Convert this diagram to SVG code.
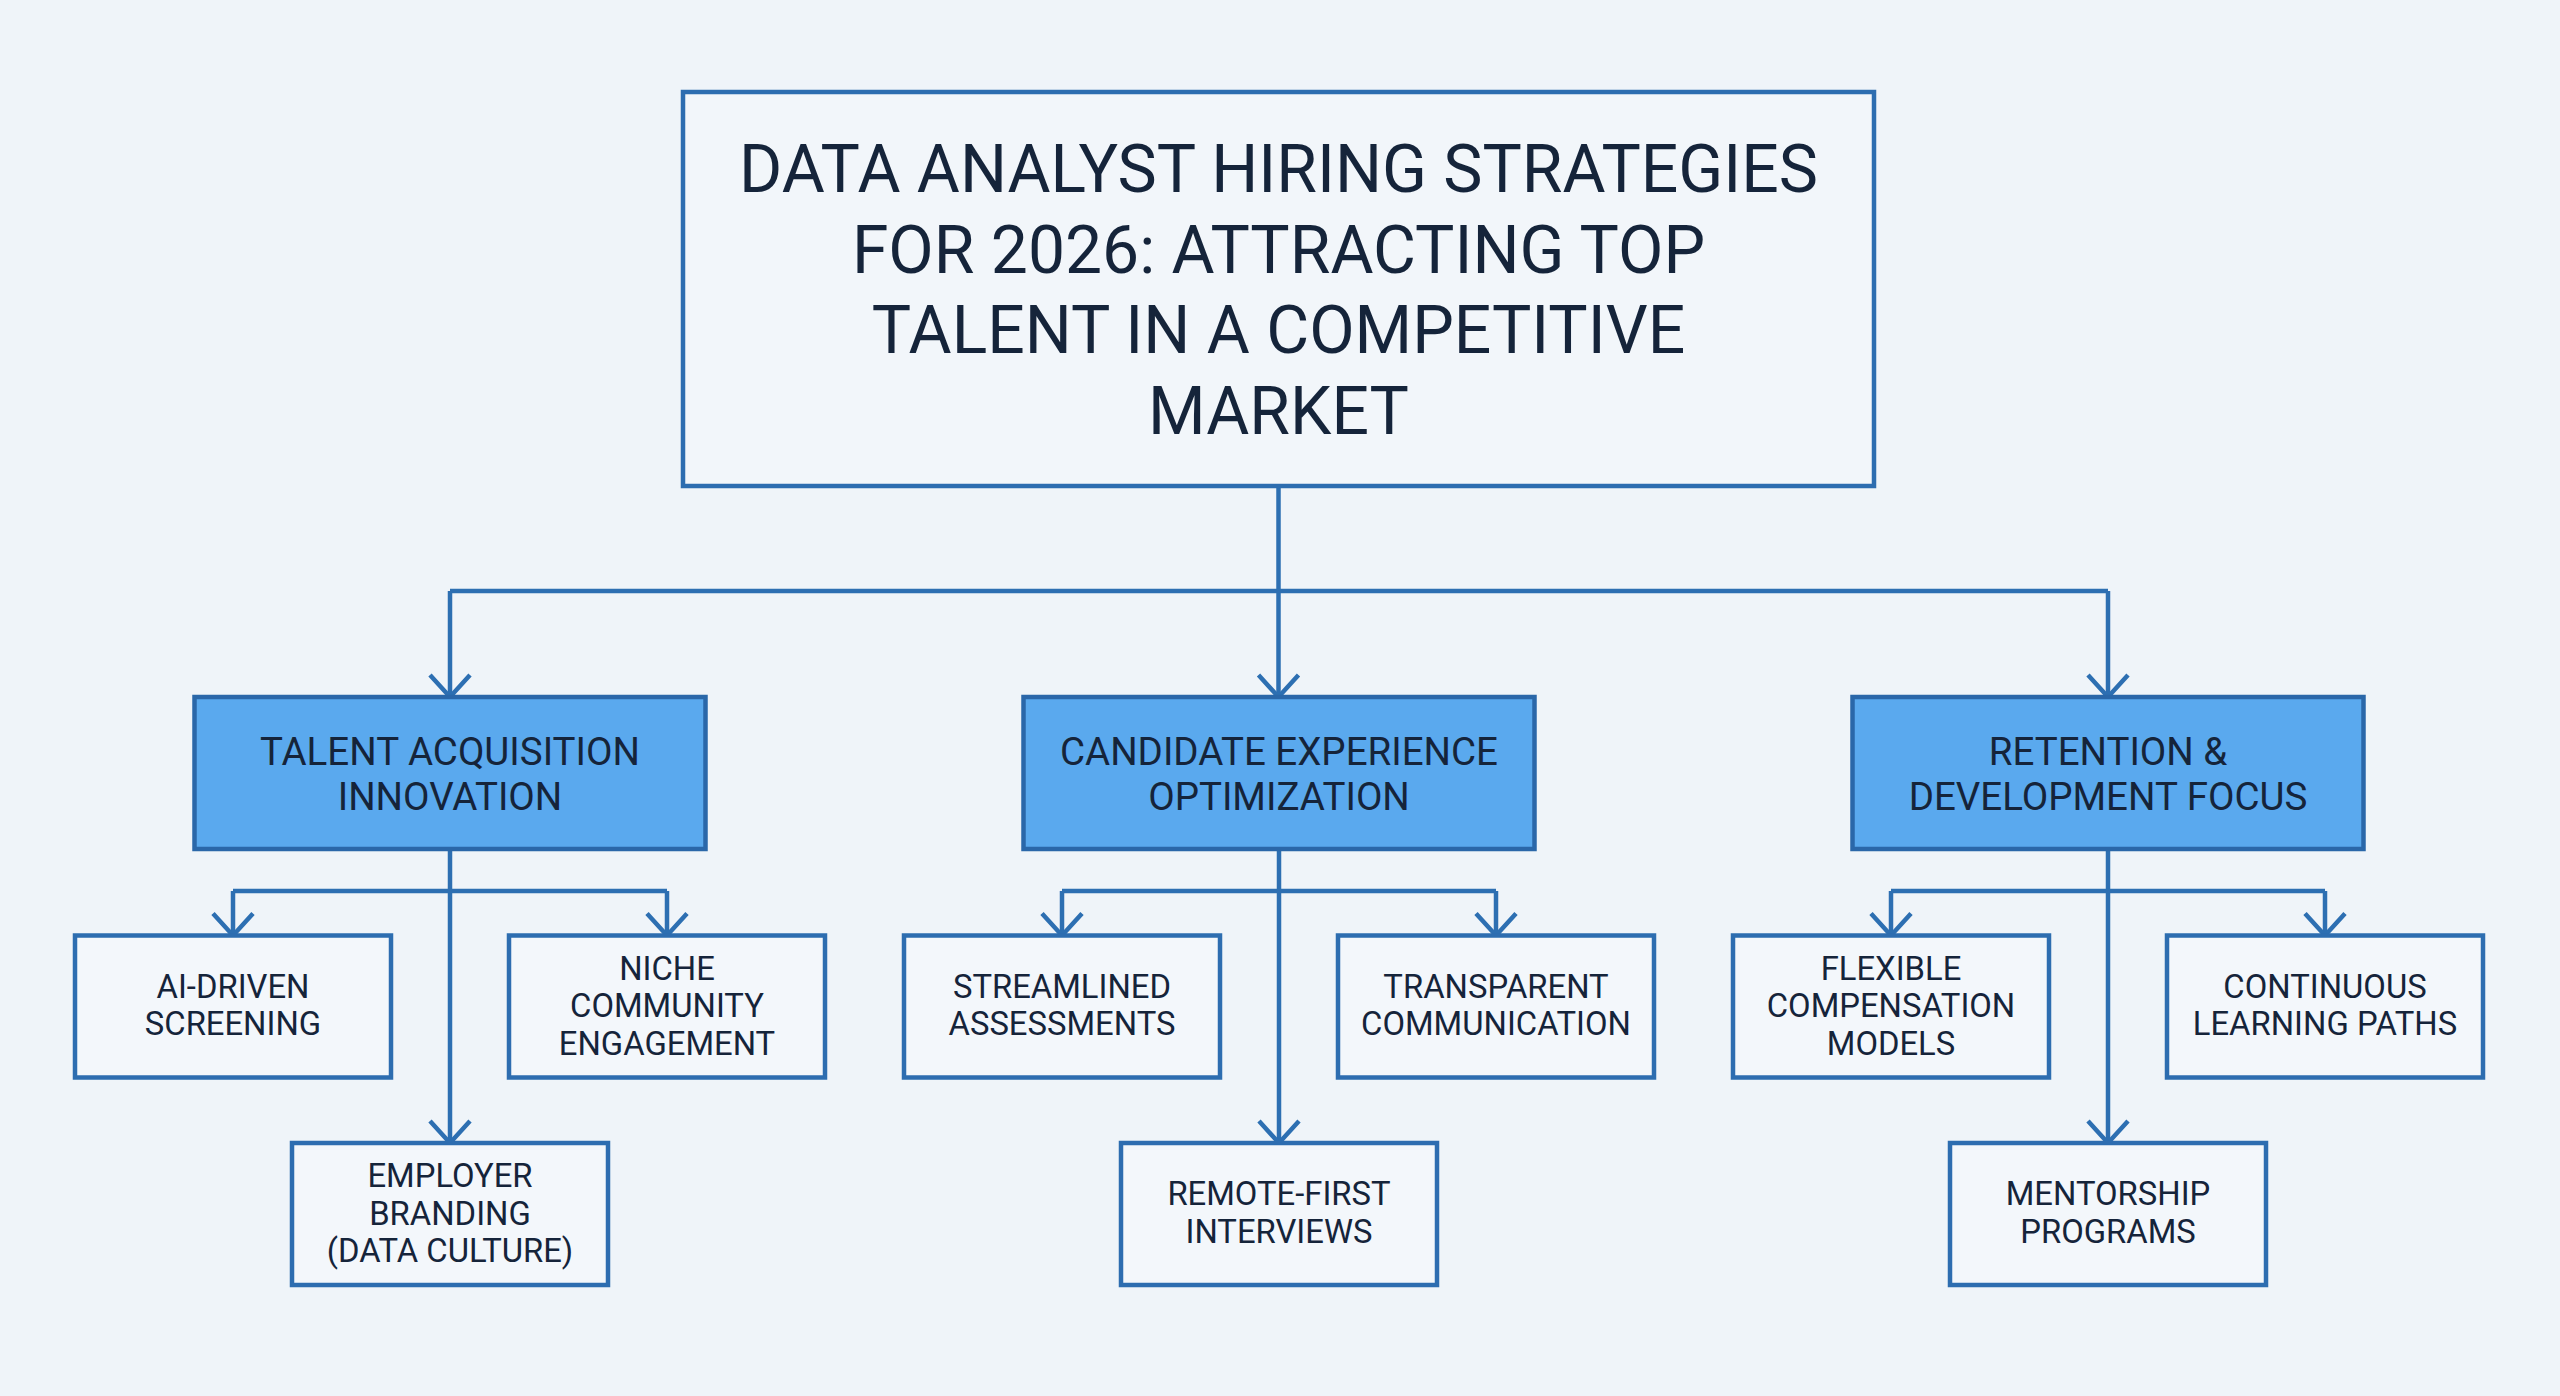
<svg xmlns="http://www.w3.org/2000/svg" width="2560" height="1396" viewBox="0 0 2560 1396">
<style>
.bg{fill:#eff4f9}
.title{fill:#f2f6fa;stroke:#2d6db0;stroke-width:4.5}
.cat{fill:#5aa9ee;stroke:#2a67a9;stroke-width:4.5}
.leaf{fill:#f3f7fb;stroke:#2d6db0;stroke-width:4.5}
.conn{fill:none;stroke:#2d6fb2;stroke-width:4.5}
text{font-family:Roboto,"Liberation Sans",Arial,sans-serif;fill:#15243a;text-anchor:middle}
.t0{font-size:66px}
.t1{font-size:38.5px}
.t2{font-size:32.8px}
</style>
<defs>
<marker id="arr" markerUnits="userSpaceOnUse" viewBox="-26 -26 30 52" markerWidth="30" markerHeight="52" refX="0" refY="0" orient="auto" overflow="visible">
<path d="M-22,-20 L0,0 L-22,20" fill="none" stroke="#2d6fb2" stroke-width="4.5" stroke-linejoin="miter"/>
</marker>
</defs>
<rect class="bg" x="0" y="0" width="2560" height="1396"/>

<g id="connectors">
<path class="conn" d="M1278.5 486 V697" marker-end="url(#arr)"/>
<path class="conn" d="M450 591 H2108"/>
<path class="conn" d="M450 591 V697" marker-end="url(#arr)"/>
<path class="conn" d="M2108 591 V697" marker-end="url(#arr)"/>

<path class="conn" d="M450 849 V1143" marker-end="url(#arr)"/>
<path class="conn" d="M233 891 H667"/>
<path class="conn" d="M233 891 V935.5" marker-end="url(#arr)"/>
<path class="conn" d="M667 891 V935.5" marker-end="url(#arr)"/>

<path class="conn" d="M1279 849 V1143" marker-end="url(#arr)"/>
<path class="conn" d="M1062 891 H1496"/>
<path class="conn" d="M1062 891 V935.5" marker-end="url(#arr)"/>
<path class="conn" d="M1496 891 V935.5" marker-end="url(#arr)"/>

<path class="conn" d="M2108 849 V1143" marker-end="url(#arr)"/>
<path class="conn" d="M1891 891 H2325"/>
<path class="conn" d="M1891 891 V935.5" marker-end="url(#arr)"/>
<path class="conn" d="M2325 891 V935.5" marker-end="url(#arr)"/>
</g>

<g id="title">
<rect class="title" x="683" y="92" width="1191" height="394"/>
<text class="t0" x="1278.5" y="192">DATA ANALYST HIRING STRATEGIES</text>
<text class="t0" x="1278.5" y="272.5">FOR 2026: ATTRACTING TOP</text>
<text class="t0" x="1278.5" y="353">TALENT IN A COMPETITIVE</text>
<text class="t0" x="1278.5" y="433.5">MARKET</text>
</g>

<g id="talent-acquisition">
<rect class="cat" x="194.5" y="697" width="511" height="152"/>
<text class="t1" x="450" y="764.5">TALENT ACQUISITION</text>
<text class="t1" x="450" y="810">INNOVATION</text>
</g>
<g id="candidate-experience">
<rect class="cat" x="1023.5" y="697" width="511" height="152"/>
<text class="t1" x="1279" y="764.5">CANDIDATE EXPERIENCE</text>
<text class="t1" x="1279" y="810">OPTIMIZATION</text>
</g>
<g id="retention">
<rect class="cat" x="1852.5" y="697" width="511" height="152"/>
<text class="t1" x="2108" y="764.5">RETENTION &amp;</text>
<text class="t1" x="2108" y="810">DEVELOPMENT FOCUS</text>
</g>

<g id="ai-driven">
<rect class="leaf" x="75" y="935.5" width="316" height="142"/>
<text class="t2" x="233" y="997.5">AI-DRIVEN</text>
<text class="t2" x="233" y="1035">SCREENING</text>
</g>
<g id="niche">
<rect class="leaf" x="509" y="935.5" width="316" height="142"/>
<text class="t2" x="667" y="979.5">NICHE</text>
<text class="t2" x="667" y="1017">COMMUNITY</text>
<text class="t2" x="667" y="1054.5">ENGAGEMENT</text>
</g>
<g id="employer">
<rect class="leaf" x="292" y="1143" width="316" height="142"/>
<text class="t2" x="450" y="1187">EMPLOYER</text>
<text class="t2" x="450" y="1224.5">BRANDING</text>
<text class="t2" x="450" y="1262">(DATA CULTURE)</text>
</g>

<g id="streamlined">
<rect class="leaf" x="904" y="935.5" width="316" height="142"/>
<text class="t2" x="1062" y="997.5">STREAMLINED</text>
<text class="t2" x="1062" y="1035">ASSESSMENTS</text>
</g>
<g id="transparent">
<rect class="leaf" x="1338" y="935.5" width="316" height="142"/>
<text class="t2" x="1496" y="997.5">TRANSPARENT</text>
<text class="t2" x="1496" y="1035">COMMUNICATION</text>
</g>
<g id="remote-first">
<rect class="leaf" x="1121" y="1143" width="316" height="142"/>
<text class="t2" x="1279" y="1205">REMOTE-FIRST</text>
<text class="t2" x="1279" y="1242.5">INTERVIEWS</text>
</g>

<g id="flexible">
<rect class="leaf" x="1733" y="935.5" width="316" height="142"/>
<text class="t2" x="1891" y="979.5">FLEXIBLE</text>
<text class="t2" x="1891" y="1017">COMPENSATION</text>
<text class="t2" x="1891" y="1054.5">MODELS</text>
</g>
<g id="continuous">
<rect class="leaf" x="2167" y="935.5" width="316" height="142"/>
<text class="t2" x="2325" y="997.5">CONTINUOUS</text>
<text class="t2" x="2325" y="1035">LEARNING PATHS</text>
</g>
<g id="mentorship">
<rect class="leaf" x="1950" y="1143" width="316" height="142"/>
<text class="t2" x="2108" y="1205">MENTORSHIP</text>
<text class="t2" x="2108" y="1242.5">PROGRAMS</text>
</g>
</svg>
